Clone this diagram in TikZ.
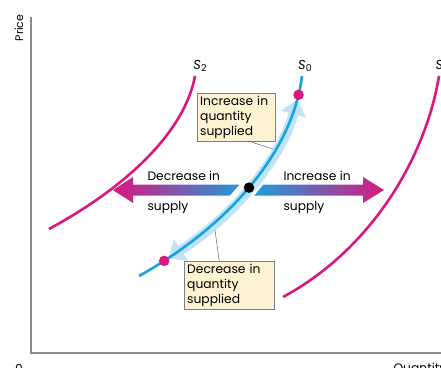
\documentclass[tikz,border=0pt]{standalone}
\usepackage{fontspec}
\setmainfont{Poppins}
\usetikzlibrary{arrows.meta}
\definecolor{supplypink}{HTML}{D9177E}
\definecolor{supplyblue}{HTML}{12A5E0}
\definecolor{bandblue}{HTML}{C2E2F6}
\definecolor{calloutfill}{HTML}{FDF2D2}
\definecolor{axisgray}{HTML}{8A8A8A}
\definecolor{shiftpurple}{HTML}{9C6FB5}
\newcommand{\curvename}[1]{\textit{S}\raisebox{-2.5pt}{\fontsize{9.5}{10}\selectfont #1}}
\tikzstyle{curve} = [line width=2.6pt, supplypink]
\tikzstyle{original} = [line width=2.6pt, supplyblue]
\tikzstyle{band} = [line width=10pt, bandblue, {Triangle[width=25pt,length=15pt]}-{Triangle[width=25pt,length=15pt]}]
\tikzstyle{callout} = [rectangle, draw=gray, fill=calloutfill, align=left, anchor=north west, inner xsep=3pt, inner ysep=2.5pt, font=\fontsize{12.3}{15}\selectfont]
\tikzstyle{leader} = [thin, black!70]
\tikzstyle{dot} = [circle, inner sep=0pt, minimum size=10.5pt]
\tikzstyle{tag} = [font=\fontsize{12.3}{14}\selectfont]
\tikzstyle{curvetag} = [font=\fontsize{13}{14}\selectfont]

\begin{document}
\begin{tikzpicture}[x=1pt, y=-1pt]
        \useasboundingbox (0,0) rectangle (441,367);
        % axes
        \draw [axisgray, line width=1.6pt] (31,17) -- (31,353) -- (441,353);
        \node (price) [rotate=90, font=\fontsize{11}{12}\selectfont] at (19,28) {Price};
        \node (origin) [tag] at (19,369) {0};
        \node (quantity) [tag, anchor=west] at (390,369) {Quantity};

        % shifts of the supply curve
        \shade [left color=supplypink, middle color=shiftpurple, right color=supplyblue]
            (113,190) -- (133,177) -- (133,184.5) -- (252,184.5) -- (252,195.5) -- (133,195.5) -- (133,203) -- cycle;
        \shade [left color=supplyblue, middle color=shiftpurple, right color=supplypink]
            (384,190) -- (363,177) -- (363,184.5) -- (248,184.5) -- (248,195.5) -- (363,195.5) -- (363,203) -- cycle;
        \node (decr) [tag, anchor=west] at (144,176) {Decrease in};
        \node (decrsup) [tag, anchor=west] at (144,208) {supply};
        \node (incr) [tag, anchor=west] at (280,176) {Increase in};
        \node (incrsup) [tag, anchor=west] at (280,208) {supply};

        % supply curves
        \draw [curve] (49,229) .. controls (130,185) and (185,130) .. (195,76);
        \draw [curve] (283,297) .. controls (370,250) and (425,160) .. (439,76);
        \draw [white, line width=18pt] (139,276) .. controls (225,228) and (292,155) .. (302,76);
        \draw [band, shorten <=5pt] (164.2,260.9) .. controls (229.7,218.7) and (280.5,161.6) .. (297.3,99.5);
        \draw [original] (139,276) .. controls (225,228) and (292,155) .. (302,76)
            node [pos=0.1, dot, fill=supplypink] (low) {}
            node [pos=0.5, dot, fill=black] (mid) {}
            node [pos=0.92, dot, fill=supplypink] (high) {};

        \node (stwo) [curvetag] at (200,66) {\curvename{2}};
        \node (szero) [curvetag] at (305,66) {\curvename{0}};
        \node (sone) [curvetag] at (441,66) {\curvename{1}};

        % movements along the curve
        \node (upbox) [callout, text width=72pt] at (197,93) {Increase in\\quantity\\supplied};
        \node (lowbox) [callout, text width=84pt] at (184,261) {Decrease in\\quantity\\supplied};
        \coordinate (uptouch) at (273,149);
        \coordinate (lowtouch) at (215,230);
        \draw [leader] ([xshift=12pt]upbox.south) -- (uptouch);
        \draw [leader] ([xshift=-10pt]lowbox.north) -- (lowtouch);
    \end{tikzpicture}
\end{document}
